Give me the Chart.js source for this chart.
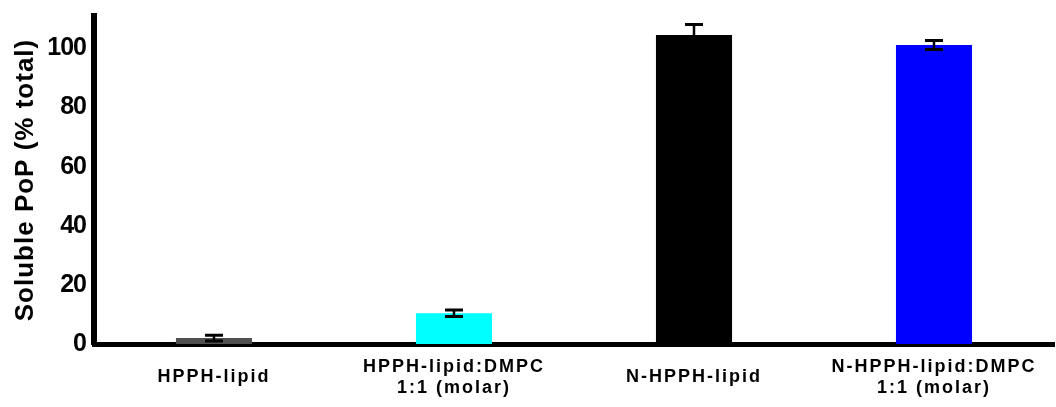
<!DOCTYPE html>
<html>
<head>
<meta charset="utf-8">
<script src="https://cdn.jsdelivr.net/npm/chart.js@4/dist/chart.umd.min.js"></script>
<style>
  html, body { margin: 0; padding: 0; background: #fff; }
  #wrap { width: 1056px; height: 407px; position: relative; }
</style>
</head>
<body>
<div id="wrap"><canvas id="c"></canvas></div>
<script>
// 수용성 PoP 비율 막대 + 오차막대
const categories = [
  ['HPPH-lipid'],
  ['HPPH-lipid:DMPC', '1:1 (molar)'],
  ['N-HPPH-lipid'],
  ['N-HPPH-lipid:DMPC', '1:1 (molar)'],
];
const values  = [2.0, 10.4, 104.6, 101.2];
const errors  = [1.0, 1.1, 3.5, 1.5];
const colors  = ['#505050', '#00ffff', '#000000', '#0000ff'];
const yTicks  = [0, 20, 40, 60, 80, 100];
const yTitle  = 'Soluble PoP (% total)';

const FONT = '"Liberation Sans", Arial, sans-serif';

// 오차막대: 막대 중심에서 ±err, 위아래 캡
const errorBars = {
  id: 'errorBars',
  afterDatasetsDraw(chart) {
    const { ctx } = chart;
    const y = chart.scales.y;
    const meta = chart.getDatasetMeta(0);
    ctx.save();
    ctx.strokeStyle = '#000';
    meta.data.forEach((bar, i) => {
      const top = y.getPixelForValue(values[i] + errors[i]);
      const bot = y.getPixelForValue(values[i] - errors[i]);
      const cap = 9;
      ctx.lineWidth = 2.5;
      ctx.beginPath();
      ctx.moveTo(bar.x, top); ctx.lineTo(bar.x, bot);
      ctx.stroke();
      ctx.lineWidth = 3;
      ctx.beginPath();
      ctx.moveTo(bar.x - cap, top); ctx.lineTo(bar.x + cap, top);
      ctx.moveTo(bar.x - cap, bot); ctx.lineTo(bar.x + cap, bot);
      ctx.stroke();
    });
    ctx.restore();
  }
};

// 자간: x 라벨은 넓게, y 눈금 숫자는 좁게
function withSpacing(scale, fn, px) {
  if (scale['_sp_' + fn]) return;
  const orig = scale[fn];
  scale[fn] = function (...a) {
    const c = this.ctx, prev = c.letterSpacing;
    c.letterSpacing = px;
    orig.apply(this, a);
    c.letterSpacing = prev;
  };
  scale['_sp_' + fn] = true;
}
const spacing = {
  id: 'spacing',
  afterUpdate(chart) {
    withSpacing(chart.scales.x, 'drawLabels', '2px');
    withSpacing(chart.scales.y, 'drawLabels', '-1px');
    withSpacing(chart.scales.y, 'drawTitle', '1px');
  }
};

new Chart(document.getElementById('c'), {
  type: 'bar',
  data: {
    labels: categories,
    datasets: [{
      data: values,
      backgroundColor: colors,
      borderWidth: 0,
      categoryPercentage: 1,
      barPercentage: 0.317,
    }]
  },
  options: {
    responsive: true,
    maintainAspectRatio: false,
    animation: false,
    layout: { padding: { top: 16, right: 2, left: 0, bottom: 0 } },
    plugins: { legend: { display: false }, tooltip: { enabled: false } },
    scales: {
      x: {
        grid: { display: false, drawTicks: false },
        border: { display: true, color: '#000', width: 5 },
        ticks: {
          color: '#000',
          padding: 23,
          crossAlign: 'center',
          maxRotation: 0,
          autoSkip: false,
          font: { family: FONT, size: 18, weight: 'bold', lineHeight: 1.15 },
        },
        afterFit: s => { s.height = 63; s.paddingLeft = 0; s.paddingRight = 0; },
      },
      y: {
        min: 0,
        max: 111,
        grid: { display: false, drawTicks: false },
        border: { display: true, color: '#000', width: 6 },
        afterBuildTicks: s => { s.ticks = yTicks.map(v => ({ value: v })); },
        ticks: {
          color: '#000',
          padding: 8,
          font: { family: FONT, size: 25, weight: 'bold' },
        },
        title: {
          display: true,
          text: yTitle,
          color: '#000',
          padding: { top: 10, bottom: 0 },
          font: { family: FONT, size: 26, weight: 'bold', lineHeight: 1.2 },
        },
        afterFit: s => { s.width = 94; s.paddingTop = 0; s.paddingBottom = 0; },
      }
    }
  },
  plugins: [errorBars, spacing]
});
</script>
</body>
</html>
